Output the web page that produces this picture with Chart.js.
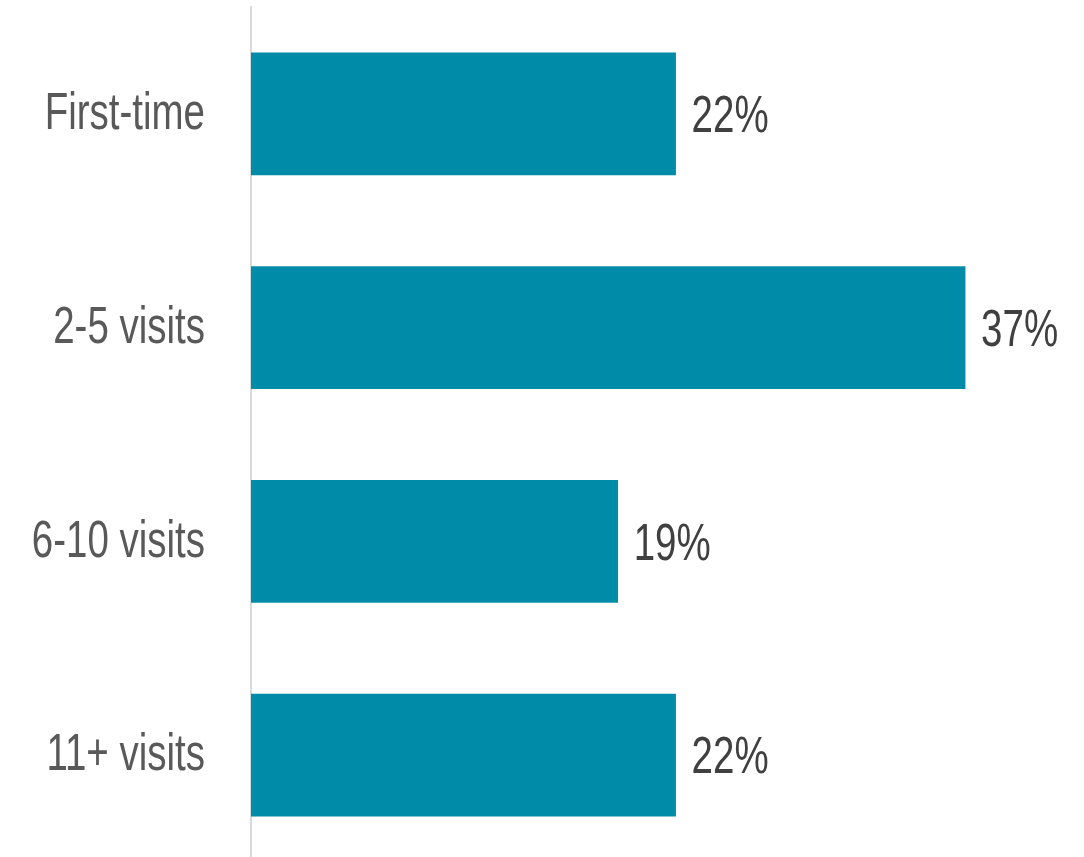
<!DOCTYPE html>
<html>
<head>
<meta charset="utf-8">
<script src="https://cdn.jsdelivr.net/npm/chart.js@4.4.1/dist/chart.umd.min.js"></script>
<style>
  html, body { margin: 0; padding: 0; background: #fff; overflow: hidden; }
  #wrap { width: 1084px; height: 857px; overflow: hidden; }
  canvas { display: block; }
</style>
</head>
<body>
<div id="wrap"><canvas id="grafico" width="1084" height="866"></canvas></div>
<script>
// dados do gráfico
const categorias = ['First-time', '2-5 visits', '6-10 visits', '11+ visits'];
const valores = [22, 37, 19, 22];
const fonte = "'Liberation Sans', Arial, sans-serif";
const ESTREITO = 0.74; // compressão horizontal para imitar Arial Narrow

// escreve texto "estreito" (sem fonte narrow instalada)
function textoEstreito(ctx, texto, x, y, alinhamento) {
    ctx.save();
    ctx.translate(x, y);
    ctx.scale(ESTREITO, 1);
    ctx.textAlign = alinhamento;
    ctx.fillText(texto, 0, 0);
    ctx.restore();
}

// plugin para os rótulos do eixo y e os percentuais ao lado das barras
const rotulos = {
    id: 'rotulos',
    afterDatasetsDraw(chart) {
        const ctx = chart.ctx;
        const meta = chart.getDatasetMeta(0);
        const eixoY = chart.scales.y;
        ctx.save();
        ctx.font = '52px ' + fonte;
        ctx.textBaseline = 'middle';
        ctx.fillStyle = '#595959';
        categorias.forEach((nome, i) => {
            textoEstreito(ctx, nome, eixoY.right - 46, eixoY.getPixelForTick(i) + 1, 'right');
        });
        ctx.fillStyle = '#404040';
        meta.data.forEach((barra, i) => {
            textoEstreito(ctx, valores[i] + '%', barra.x + 16, barra.y + 4, 'left');
        });
        ctx.restore();
    }
};

const ctx = document.getElementById('grafico').getContext('2d');
new Chart(ctx, {
    type: 'bar',
    data: {
        labels: categorias,
        datasets: [{
            data: valores,
            backgroundColor: '#008CA8',
            barThickness: 122,
            borderSkipped: false
        }]
    },
    options: {
        indexAxis: 'y',
        responsive: false,
        animation: false,
        plugins: {
            legend: { display: false },
            tooltip: { enabled: false }
        },
        layout: {
            padding: { left: 0, right: 61, top: 7, bottom: 4 }
        },
        scales: {
            x: {
                display: false,
                min: 0,
                max: 40
            },
            y: {
                grid: { display: false, drawTicks: false },
                border: { display: true, color: '#d9d9d9', width: 2 },
                ticks: { display: false },
                afterFit(scale) {
                    scale.width = 251;
                }
            }
        }
    },
    plugins: [rotulos]
});
</script>
</body>
</html>
